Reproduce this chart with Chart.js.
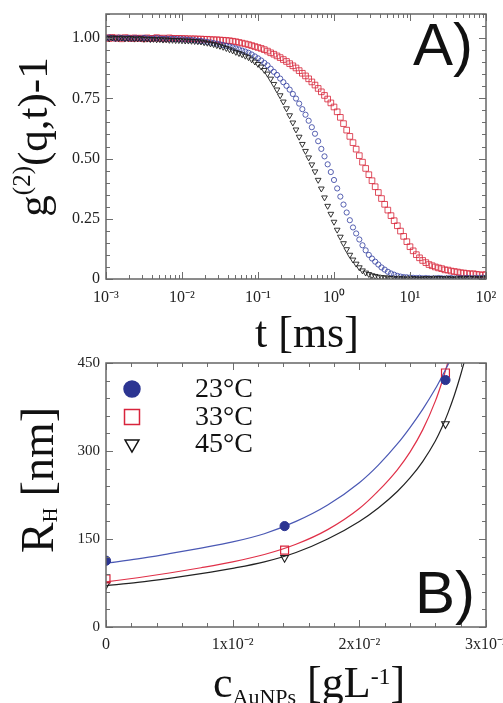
<!DOCTYPE html>
<html>
<head>
<meta charset="utf-8">
<script src="https://cdn.jsdelivr.net/npm/chart.js@4.4.1/dist/chart.umd.min.js"></script>
<style>
  html, body { margin: 0; padding: 0; background: #fff; overflow: hidden; }
  canvas { position: absolute; left: 0; }
  #chartA { top: 0; }
  #chartB { top: 340px; }
</style>
</head>
<body>
<canvas id="chartA" width="503" height="360"></canvas>
<canvas id="chartB" width="503" height="363"></canvas>
<script>
// ---- panel A: correlation functions (24 channels per decade) ----
const delayTimes = [
  1e-3, 1.101e-3, 1.212e-3, 1.334e-3, 1.468e-3, 1.616e-3, 1.778e-3, 1.957e-3, 2.154e-3, 2.371e-3, 2.61e-3, 2.873e-3,
  3.162e-3, 3.481e-3, 3.831e-3, 4.217e-3, 4.642e-3, 5.109e-3, 5.623e-3, 6.19e-3, 6.813e-3, 7.499e-3, 8.254e-3, 9.085e-3,
  1e-2, 1.101e-2, 1.212e-2, 1.334e-2, 1.468e-2, 1.616e-2, 1.778e-2, 1.957e-2, 2.154e-2, 2.371e-2, 2.61e-2, 2.873e-2,
  3.162e-2, 3.481e-2, 3.831e-2, 4.217e-2, 4.642e-2, 5.109e-2, 5.623e-2, 6.19e-2, 6.813e-2, 7.499e-2, 8.254e-2, 9.085e-2,
  0.1, 0.1101, 0.1212, 0.1334, 0.1468, 0.1616, 0.1778, 0.1957, 0.2154, 0.2371, 0.261, 0.2873,
  0.3162, 0.3481, 0.3831, 0.4217, 0.4642, 0.5109, 0.5623, 0.619, 0.6813, 0.7499, 0.8254, 0.9085,
  1, 1.101, 1.212, 1.334, 1.468, 1.616, 1.778, 1.957, 2.154, 2.371, 2.61, 2.873,
  3.162, 3.481, 3.831, 4.217, 4.642, 5.109, 5.623, 6.19, 6.813, 7.499, 8.254, 9.085,
  10, 11.01, 12.12, 13.34, 14.68, 16.16, 17.78, 19.57, 21.54, 23.71, 26.1, 28.73,
  31.62, 34.81, 38.31, 42.17, 46.42, 51.09, 56.23, 61.9, 68.13, 74.99, 82.54, 90.85,
  100
];
const g2Red = [
  1.002, 0.998, 1.003, 0.999, 1.001, 0.997, 1.002, 1.000, 0.998, 1.001, 0.999, 1.000, 0.997, 1.001, 0.998, 0.999, 1.002, 0.998, 1.000, 0.997, 1.001, 0.999, 0.998, 0.999,
  0.998, 0.998, 0.997, 0.997, 0.997, 0.996, 0.996, 0.995, 0.995, 0.994, 0.993, 0.993, 0.992, 0.991, 0.990, 0.989, 0.987, 0.985, 0.982, 0.979, 0.976, 0.973, 0.969, 0.965,
  0.961, 0.957, 0.952, 0.946, 0.939, 0.933, 0.926, 0.919, 0.911, 0.903, 0.894, 0.885, 0.876, 0.865, 0.854, 0.843, 0.831, 0.818, 0.805, 0.791, 0.777, 0.762, 0.747, 0.731,
  0.714, 0.694, 0.671, 0.645, 0.618, 0.592, 0.566, 0.539, 0.512, 0.485, 0.459, 0.433, 0.408, 0.383, 0.359, 0.334, 0.310, 0.286, 0.263, 0.242, 0.221, 0.199, 0.177, 0.155,
  0.134, 0.117, 0.101, 0.088, 0.077, 0.068, 0.060, 0.055, 0.050, 0.046, 0.043, 0.038, 0.037, 0.033, 0.031, 0.029, 0.026, 0.025, 0.023, 0.021, 0.022, 0.019, 0.018, 0.016,
  0.019
];
const g2Blue = [
  0.999, 1.003, 1.001, 0.998, 1.002, 1.000, 0.999, 1.001, 0.998, 1.000, 0.999, 0.998, 1.001, 0.999, 0.997, 0.998, 1.000, 0.998, 0.997, 0.998, 0.996, 0.997, 0.996, 0.995,
  0.995, 0.994, 0.993, 0.992, 0.991, 0.989, 0.988, 0.986, 0.984, 0.982, 0.979, 0.977, 0.974, 0.971, 0.968, 0.965, 0.961, 0.957, 0.953, 0.948, 0.944, 0.939, 0.932, 0.924,
  0.916, 0.907, 0.897, 0.887, 0.873, 0.860, 0.847, 0.832, 0.817, 0.802, 0.786, 0.768, 0.749, 0.728, 0.705, 0.682, 0.657, 0.630, 0.603, 0.572, 0.540, 0.509, 0.476, 0.444,
  0.411, 0.376, 0.342, 0.309, 0.276, 0.244, 0.214, 0.189, 0.164, 0.140, 0.119, 0.100, 0.085, 0.072, 0.060, 0.048, 0.039, 0.030, 0.023, 0.018, 0.013, 0.010, 0.008, 0.007,
  0.006, 0.005, 0.004, 0.005, 0.003, 0.004, 0.003, 0.002, 0.003, 0.004, 0.003, 0.002, 0.003, 0.004, 0.002, 0.003, 0.004, 0.003, 0.005, 0.004, 0.003, 0.005, 0.004, 0.006,
  0.005
];
const g2Black = [
  1.001, 0.998, 1.002, 1.000, 0.999, 1.001, 0.998, 0.999, 1.000, 0.997, 0.998, 0.999, 0.996, 0.997, 0.995, 0.996, 0.994, 0.995, 0.993, 0.994, 0.992, 0.992, 0.991, 0.991,
  0.990, 0.989, 0.989, 0.988, 0.987, 0.986, 0.985, 0.982, 0.980, 0.977, 0.974, 0.970, 0.967, 0.963, 0.958, 0.953, 0.948, 0.942, 0.937, 0.932, 0.926, 0.920, 0.911, 0.902,
  0.892, 0.881, 0.867, 0.852, 0.831, 0.809, 0.786, 0.762, 0.736, 0.708, 0.679, 0.649, 0.620, 0.590, 0.560, 0.531, 0.504, 0.475, 0.446, 0.411, 0.375, 0.338, 0.303, 0.270,
  0.237, 0.204, 0.175, 0.148, 0.123, 0.100, 0.080, 0.063, 0.048, 0.035, 0.026, 0.020, 0.015, 0.012, 0.009, 0.007, 0.006, 0.005, 0.004, 0.003, 0.002, 0.003, 0.002, 0.001,
  0.002, 0.003, 0.002, 0.001, 0.002, 0.003, 0.002, 0.003, 0.002, 0.004, 0.003, 0.002, 0.003, 0.002, 0.001, 0.002, 0.003, 0.002, 0.003, 0.004, 0.003, 0.002, 0.003, 0.004,
  0.005
];
const topXTicks = [0.001, 0.01, 0.1, 1, 10, 100];
const topXLabels = ['10⁻³', '10⁻²', '10⁻¹', '10⁰', '10¹', '10²'];
const topYTicks = [0, 0.25, 0.5, 0.75, 1.0];
const topYLabels = ['0', '0.25', '0.50', '0.75', '1.00'];

// ---- panel B: hydrodynamic radius ----
const concPoints = [0, 0.0141, 0.0268];
const rh23 = [113, 172, 421];
const rh33 = [82, 131, 433];
const rh45 = [72, 118, 346];
const fitConc = [0, 0.0025, 0.005, 0.0075, 0.01, 0.0125, 0.015, 0.0175, 0.02, 0.0215, 0.023, 0.024, 0.025, 0.026, 0.0265, 0.027, 0.0275, 0.028, 0.0285, 0.029];
const fit23 = [108.5, 116, 125, 134.5, 145, 159, 180, 208, 246, 276, 312, 340, 371, 406, 426, 447, 470, 495, 522, 552];
const fit33 = [77, 84, 92, 101, 111, 123.5, 141, 166, 202, 232, 268, 298, 336, 385, 416, 452, 495, 545, 605, 675];
const fit45 = [70.5, 76, 83, 91, 100, 111, 127, 150, 180, 203, 231, 254, 282, 317, 339, 365, 395, 430, 470, 515];
const botXTicks = [0, 0.01, 0.02, 0.03];
const botXLabels = ['0', '1x10⁻²', '2x10⁻²', '3x10⁻²'];
const botYTicks = [0, 150, 300, 450];
const botYLabels = ['0', '150', '300', '450'];
const legendLabels = ['23°C', '33°C', '45°C'];

const SERIF = '"Liberation Serif", "Times New Roman", serif';
const SANS = '"Liberation Sans", Arial, sans-serif';
const RED = '#d8243c';
const BLUE = '#2c3592';

Chart.defaults.font.family = SERIF;
Chart.defaults.color = '#222';

const pts = (xs, ys) => xs.map((x, i) => ({ x: x, y: ys[i] }));

// inward ticks on all four sides + grey frame
const frameTicks = {
  id: 'frameTicks',
  afterDatasetsDraw(chart, args, opts) {
    const { ctx, chartArea: a } = chart;
    const xs = chart.scales.x, ys = chart.scales.y;
    ctx.save();
    ctx.strokeStyle = '#6e6e6e';
    ctx.lineWidth = 1;
    ctx.beginPath();
    const vTicks = (vals, len) => vals.forEach(v => {
      const px = Math.round(xs.getPixelForValue(v)) + 0.5;
      ctx.moveTo(px, a.bottom); ctx.lineTo(px, a.bottom - len);
      ctx.moveTo(px, a.top); ctx.lineTo(px, a.top + len);
    });
    const hTicks = (vals, len) => vals.forEach(v => {
      const py = Math.round(ys.getPixelForValue(v)) + 0.5;
      ctx.moveTo(a.left, py); ctx.lineTo(a.left + len, py);
      ctx.moveTo(a.right, py); ctx.lineTo(a.right - len, py);
    });
    vTicks(opts.xMajor, 7); vTicks(opts.xMinor, 4);
    hTicks(opts.yMajor, 7); hTicks(opts.yMinor, 4);
    ctx.stroke();
    ctx.lineWidth = 1.5;
    ctx.strokeStyle = '#666';
    ctx.strokeRect(a.left, a.top, a.right - a.left, a.bottom - a.top);
    ctx.restore();
  }
};

// text with sub/superscripts
function richText(ctx, parts, x, y, align, rotate) {
  ctx.save();
  ctx.translate(x, y);
  if (rotate) ctx.rotate(-Math.PI / 2);
  ctx.fillStyle = '#111';
  ctx.textBaseline = 'alphabetic';
  let w = 0;
  parts.forEach(p => { ctx.font = p.s + 'px ' + SERIF; p.w = ctx.measureText(p.t).width; w += p.w; });
  let cx = align === 'center' ? -w / 2 : 0;
  parts.forEach(p => {
    ctx.font = p.s + 'px ' + SERIF;
    ctx.fillText(p.t, cx, p.dy || 0);
    cx += p.w;
  });
  ctx.restore();
}

const titles = {
  id: 'titles',
  afterDraw(chart, args, opts) {
    const ctx = chart.ctx;
    opts.items.forEach(it => richText(ctx, it.parts, it.x, it.y, it.align, it.rotate));
    ctx.save();
    ctx.fillStyle = '#111';
    ctx.font = '60px ' + SANS;
    ctx.fillText(opts.panel.text, opts.panel.x, opts.panel.y);
    ctx.restore();
  }
};

const inLegend = {
  id: 'inLegend',
  afterDraw(chart, args, opts) {
    if (!opts.rows) return;
    const ctx = chart.ctx;
    opts.rows.forEach((r, i) => {
      ctx.save();
      ctx.fillStyle = r.fill;
      ctx.strokeStyle = r.stroke;
      ctx.lineWidth = 1.5;
      Chart.helpers.drawPoint(ctx, { pointStyle: r.style, radius: r.radius, rotation: r.rotation || 0, borderWidth: r.borderWidth }, opts.x, r.y);
      ctx.fillStyle = '#111';
      ctx.font = '28px ' + SERIF;
      ctx.fillText(legendLabels[i], opts.textX, r.y + 8);
      ctx.restore();
    });
  }
};

function minorLog() {
  const out = [];
  for (let e = -3; e < 2; e++) for (let m = 2; m <= 9; m++) out.push(m * Math.pow(10, e));
  return out;
}
function minorLin(step, max, majors) {
  const out = [];
  for (let v = 0; v <= max + 1e-12; v += step) {
    const r = Math.round(v / step) * step;
    if (!majors.some(m => Math.abs(m - r) < step / 10)) out.push(r);
  }
  return out;
}

const topChart = new Chart(document.getElementById('chartA').getContext('2d'), {
  type: 'scatter',
  data: {
    datasets: [
      { label: 'black', data: pts(delayTimes, g2Black), pointStyle: 'triangle', pointRotation: 180, pointRadius: 3.3,
        borderColor: '#1e1e1e', backgroundColor: 'rgba(0,0,0,0)', borderWidth: 0.9, clip: 0 },
      { label: 'blue', data: pts(delayTimes, g2Blue), pointStyle: 'circle', pointRadius: 2.6,
        borderColor: 'rgba(50,62,160,0.9)', backgroundColor: 'rgba(0,0,0,0)', borderWidth: 0.9, clip: 0 },
      { label: 'red', data: pts(delayTimes, g2Red), pointStyle: 'rect', pointRadius: 4,
        borderColor: 'rgba(215,35,55,0.8)', backgroundColor: 'rgba(0,0,0,0)', borderWidth: 1, clip: 0 }
    ]
  },
  options: {
    responsive: false,
    animation: false,
    devicePixelRatio: 1,
    layout: { padding: { left: 0, right: 17, top: 14, bottom: 0 } },
    scales: {
      x: {
        type: 'logarithmic', min: 0.001, max: 100,
        afterBuildTicks: s => { s.ticks = topXTicks.map(v => ({ value: v })); },
        afterFit: s => { s.height = 81; s.paddingLeft = 0; s.paddingRight = 0; },
        ticks: { callback: v => topXLabels[topXTicks.indexOf(v)], font: { size: 16 }, padding: 9, autoSkip: false, maxRotation: 0 },
        grid: { display: false, drawTicks: false },
        border: { display: false }
      },
      y: {
        min: 0, max: 1.1,
        afterBuildTicks: s => { s.ticks = topYTicks.map(v => ({ value: v })); },
        afterFit: s => { s.width = 106; s.paddingTop = 0; s.paddingBottom = 0; },
        ticks: { callback: v => topYLabels[topYTicks.indexOf(v)], font: { size: 16 }, padding: 6 },
        grid: { display: false, drawTicks: false },
        border: { display: false }
      }
    },
    plugins: {
      legend: { display: false },
      tooltip: { enabled: false },
      frameTicks: { xMajor: topXTicks, xMinor: minorLog(), yMajor: topYTicks, yMinor: minorLin(0.05, 1.1, topYTicks) },
      titles: {
        items: [
          { parts: [{ t: 'g', s: 43 }, { t: '(2)', s: 25, dy: -17 }, { t: '(q,t)-1', s: 43 }], x: 47, y: 137, align: 'center', rotate: true },
          { parts: [{ t: 't [ms]', s: 44 }], x: 255, y: 347, align: 'left' }
        ],
        panel: { text: 'A)', x: 413, y: 65 }
      }
    }
  },
  plugins: [frameTicks, titles]
});

const bottomChart = new Chart(document.getElementById('chartB').getContext('2d'), {
  type: 'scatter',
  data: {
    datasets: [
      { label: legendLabels[0], data: pts(concPoints, rh23), pointStyle: 'circle', pointRadius: 4.6,
        borderColor: BLUE, backgroundColor: BLUE, borderWidth: 1, clip: 0 },
      { label: legendLabels[1], data: pts(concPoints, rh33), pointStyle: 'rect', pointRadius: 5.6,
        borderColor: RED, backgroundColor: 'rgba(0,0,0,0)', borderWidth: 1.2, clip: 0 },
      { label: legendLabels[2], data: pts(concPoints, rh45), pointStyle: 'triangle', pointRotation: 180, pointRadius: 4.4,
        borderColor: '#1e1e1e', backgroundColor: 'rgba(0,0,0,0)', borderWidth: 1.1, clip: 0 },
      { label: 'fit 23', data: pts(fitConc, fit23), showLine: true, pointRadius: 0, borderColor: '#4a58b4', borderWidth: 1.2,
        cubicInterpolationMode: 'monotone', clip: 0 },
      { label: 'fit 33', data: pts(fitConc, fit33), showLine: true, pointRadius: 0, borderColor: '#e03048', borderWidth: 1.2,
        cubicInterpolationMode: 'monotone', clip: 0 },
      { label: 'fit 45', data: pts(fitConc, fit45), showLine: true, pointRadius: 0, borderColor: '#222', borderWidth: 1.2,
        cubicInterpolationMode: 'monotone', clip: 0 }
    ]
  },
  options: {
    responsive: false,
    animation: false,
    devicePixelRatio: 1,
    layout: { padding: { left: 0, right: 17, top: 23, bottom: 0 } },
    scales: {
      x: {
        min: 0, max: 0.03,
        afterBuildTicks: s => { s.ticks = botXTicks.map(v => ({ value: v })); },
        afterFit: s => { s.height = 76; s.paddingLeft = 0; s.paddingRight = 0; },
        ticks: { callback: v => botXLabels[botXTicks.indexOf(v)], font: { size: 16 }, padding: 8, autoSkip: false, maxRotation: 0 },
        grid: { display: false, drawTicks: false },
        border: { display: false }
      },
      y: {
        min: 0, max: 450,
        afterBuildTicks: s => { s.ticks = botYTicks.map(v => ({ value: v })); },
        afterFit: s => { s.width = 106; s.paddingTop = 0; s.paddingBottom = 0; },
        ticks: { callback: v => botYLabels[botYTicks.indexOf(v)], font: { size: 15 }, padding: 6 },
        grid: { display: false, drawTicks: false },
        border: { display: false }
      }
    },
    plugins: {
      legend: { display: false },
      tooltip: { enabled: false },
      frameTicks: { xMajor: botXTicks, xMinor: minorLin(0.002, 0.03, botXTicks), yMajor: botYTicks, yMinor: minorLin(30, 450, botYTicks) },
      titles: {
        items: [
          { parts: [{ t: 'R', s: 46 }, { t: 'H', s: 20, dy: 4 }, { t: ' [nm]', s: 46 }], x: 53, y: 140, align: 'center', rotate: true },
          { parts: [{ t: 'c', s: 44 }, { t: 'AuNPs', s: 22, dy: 7 }, { t: ' [gL', s: 44 }, { t: '-1', s: 24, dy: -13 }, { t: ']', s: 44 }], x: 213, y: 357, align: 'left' }
        ],
        panel: { text: 'B)', x: 415, y: 273 }
      },
      inLegend: {
        x: 132, textX: 195,
        rows: [
          { style: 'circle', radius: 8, fill: BLUE, stroke: BLUE, borderWidth: 1, y: 49 },
          { style: 'rect', radius: 10.6, fill: 'rgba(0,0,0,0)', stroke: RED, borderWidth: 1.5, y: 77 },
          { style: 'triangle', radius: 8, rotation: 180, fill: 'rgba(0,0,0,0)', stroke: '#111', borderWidth: 1.5, y: 104 }
        ]
      }
    }
  },
  plugins: [frameTicks, titles, inLegend]
});
</script>
</body>
</html>
